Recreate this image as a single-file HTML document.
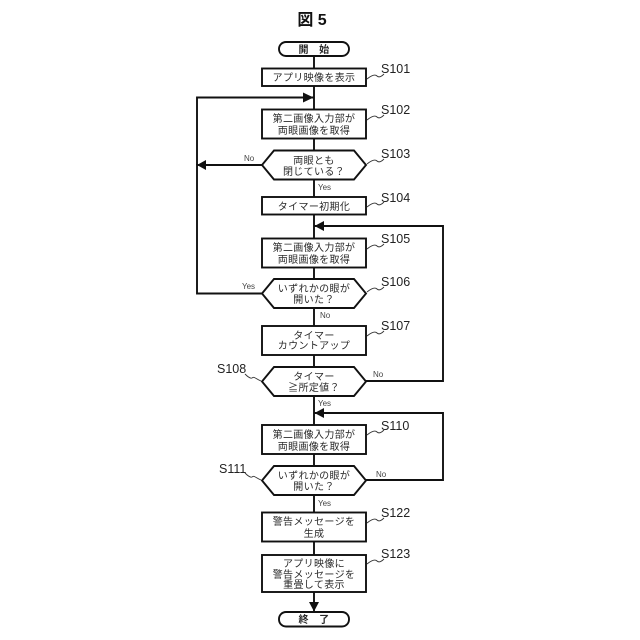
<!DOCTYPE html>
<html><head><meta charset="utf-8"><style>
html,body{margin:0;padding:0;background:#fff}
svg{display:block}
.t{font-family:"Liberation Sans","Noto Sans CJK JP",sans-serif;font-size:10px;letter-spacing:.35px;text-anchor:middle;fill:#2a2a2a}
.s{font-family:"Liberation Sans",sans-serif;font-size:12.5px;fill:#222}
.y{font-family:"Liberation Sans",sans-serif;font-size:8px;fill:#444}
.b{fill:#fff;stroke:#111;stroke-width:1.9}
.l{fill:none;stroke:#111;stroke-width:1.9}
.q{fill:none;stroke:#333;stroke-width:.9}
</style></head><body>
<svg width="640" height="640" viewBox="0 0 640 640" xmlns="http://www.w3.org/2000/svg">
<text x="312" y="25" font-family="'Liberation Sans','Noto Sans CJK JP',sans-serif" font-size="16" font-weight="700" text-anchor="middle" fill="#111">図 5</text>
<path class="l" d="M314 56V612"/>
<path class="l" d="M262 165H197V293.500H262"/>
<path class="l" d="M197 165V97.500H314"/>
<path class="l" d="M366 381H443V226H314"/>
<path class="l" d="M366 480H443V413H314"/>
<path d="M313.500 97.500L303 92.500V102.500Z M197 165L206 160V170Z M314.500 226L324 221V231Z M314.500 413L324 408V418Z M314 611.500L309 602H319Z" fill="#111"/>
<rect class="b" x="279" y="42" width="70" height="14" rx="7"/>
<rect class="b" x="262" y="68.500" width="104" height="17.500"/>
<rect class="b" x="262" y="109.500" width="104" height="29"/>
<path class="b" d="M274 150.500H354L366 165L354 179.500H274L262 165Z"/>
<rect class="b" x="262" y="197" width="104" height="17.500"/>
<rect class="b" x="262" y="238.500" width="104" height="29"/>
<path class="b" d="M274 279H354L366 293.500L354 308H274L262 293.500Z"/>
<rect class="b" x="262" y="326" width="104" height="29"/>
<path class="b" d="M274 367H354L366 381.500L354 396H274L262 381.500Z"/>
<rect class="b" x="262" y="425" width="104" height="29"/>
<path class="b" d="M274 466H354L366 480.500L354 495H274L262 480.500Z"/>
<rect class="b" x="262" y="512.500" width="104" height="29"/>
<rect class="b" x="262" y="555" width="104" height="37"/>
<rect class="b" x="279" y="612" width="70" height="14.500" rx="7"/>

<text class="t" x="314" y="53" style="font-weight:700">開　始</text>
<text class="t" x="314" y="81">アプリ映像を表示</text>
<text class="t" x="314" y="122">第二画像入力部が</text>
<text class="t" x="314" y="134">両眼画像を取得</text>
<text class="t" x="314" y="164">両眼とも</text>
<text class="t" x="314" y="175">閉じている？</text>
<text class="t" x="314" y="210">タイマー初期化</text>
<text class="t" x="314" y="251">第二画像入力部が</text>
<text class="t" x="314" y="263">両眼画像を取得</text>
<text class="t" x="314" y="292">いずれかの眼が</text>
<text class="t" x="314" y="303">開いた？</text>
<text class="t" x="314" y="339">タイマー</text>
<text class="t" x="314" y="349">カウントアップ</text>
<text class="t" x="314" y="380">タイマー</text>
<text class="t" x="314" y="391">≧所定値？</text>
<text class="t" x="314" y="438">第二画像入力部が</text>
<text class="t" x="314" y="450">両眼画像を取得</text>
<text class="t" x="314" y="479">いずれかの眼が</text>
<text class="t" x="314" y="490">開いた？</text>
<text class="t" x="314" y="525">警告メッセージを</text>
<text class="t" x="314" y="537">生成</text>
<text class="t" x="314" y="567">アプリ映像に</text>
<text class="t" x="314" y="578">警告メッセージを</text>
<text class="t" x="314" y="588">重畳して表示</text>
<text class="t" x="314" y="623" style="font-weight:700">終　了</text>

<text class="s" x="381" y="73">S101</text>
<text class="s" x="381" y="114">S102</text>
<text class="s" x="381" y="158">S103</text>
<text class="s" x="381" y="202">S104</text>
<text class="s" x="381" y="243">S105</text>
<text class="s" x="381" y="286">S106</text>
<text class="s" x="381" y="330">S107</text>
<text class="s" x="217" y="373">S108</text>
<text class="s" x="381" y="430">S110</text>
<text class="s" x="219" y="473">S111</text>
<text class="s" x="381" y="517">S122</text>
<text class="s" x="381" y="558">S123</text>

<path class="q" d="M367 79C372 75 375 74 377 76C379 78 382 76 384 74"/>
<path class="q" d="M367 120C372 116 375 115 377 117C379 119 382 117 384 115"/>
<path class="q" d="M367 164C372 160 375 159 377 161C379 163 382 161 384 159"/>
<path class="q" d="M367 207C372 203 375 202 377 204C379 206 382 204 384 202"/>
<path class="q" d="M367 249C372 245 375 244 377 246C379 248 382 246 384 244"/>
<path class="q" d="M367 292C372 288 375 287 377 289C379 291 382 289 384 287"/>
<path class="q" d="M367 336C372 332 375 331 377 333C379 335 382 333 384 331"/>
<path class="q" d="M261 381C256 379 254 376 252 378C250 379 247 376 245 374"/>
<path class="q" d="M367 435C372 431 375 430 377 432C379 434 382 432 384 430"/>
<path class="q" d="M261 480C256 478 254 475 252 477C250 478 247 475 245 473"/>
<path class="q" d="M367 523C372 519 375 518 377 520C379 522 382 520 384 518"/>
<path class="q" d="M367 564C372 560 375 559 377 561C379 563 382 561 384 559"/>

<text class="y" x="244" y="161">No</text>
<text class="y" x="318" y="190">Yes</text>
<text class="y" x="242" y="289">Yes</text>
<text class="y" x="320" y="318">No</text>
<text class="y" x="373" y="377">No</text>
<text class="y" x="318" y="406">Yes</text>
<text class="y" x="376" y="477">No</text>
<text class="y" x="318" y="506">Yes</text>
</svg>
</body></html>
